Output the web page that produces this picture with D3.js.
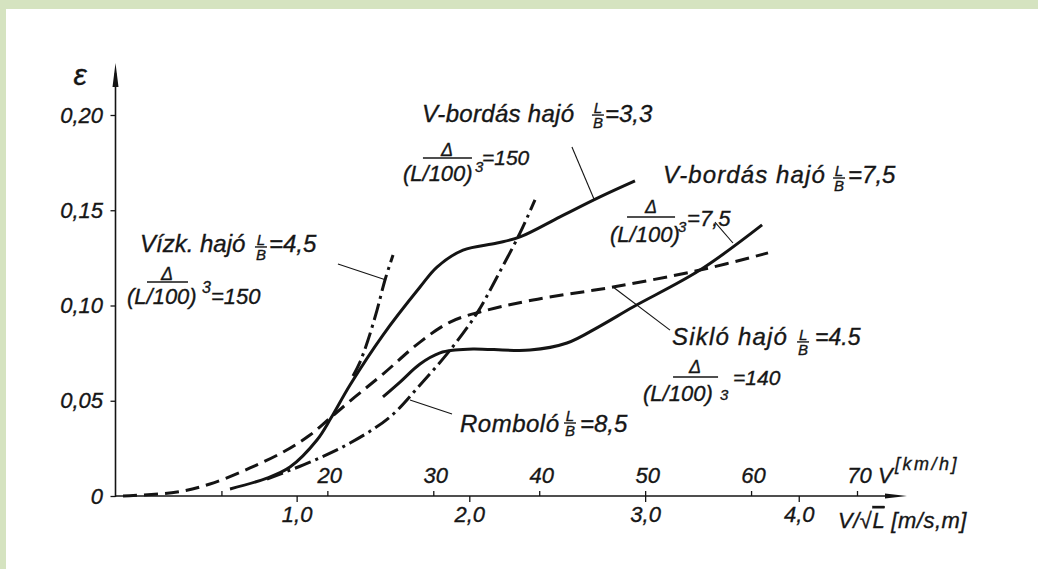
<!DOCTYPE html>
<html><head><meta charset="utf-8">
<script src="https://cdn.jsdelivr.net/npm/d3@7"></script>
<style>
html,body{margin:0;padding:0;background:#d5e3c0;}
svg{display:block;}
text{font-family:'Liberation Sans',Arial,sans-serif;font-style:italic;fill:#161616;stroke:#161616;stroke-width:0.35px;}
</style></head><body>
<svg id="chart" width="1038" height="569"></svg>
<script>
// ---------- data ----------
const yTicks = [0, 0.05, 0.10, 0.15, 0.20];
const yTickLabels = ["0", "0,05", "0,10", "0,15", "0,20"];
const kmhTicks = [10, 20, 30, 40, 50, 60, 70];
const kmhTickLabels = ["", "20", "30", "40", "50", "60", "70"];
const froudeTicks = [1, 2, 3, 4];
const froudeTickLabels = ["1,0", "2,0", "3,0", "4,0"];
// km/h value at which V/√L = 0,1,2,3,4 is drawn on the original chart
const froudeAtKmh = [0, 17.1, 33.4, 50.0, 64.5];

// series: [v km/h, epsilon]
const sikloHajo = [[0.71,0.0000],[5.81,0.0021],[8.92,0.0063],[12.70,0.0147],[16.00,0.0236],[18.36,0.0320],[20.25,0.0409],[22.61,0.0520],[25.25,0.0640],[28.75,0.0808],[31.59,0.0913],[34.41,0.0966],[39.41,0.1029],[46.97,0.1097],[55.18,0.1186],[61.60,0.1276]];
const vBordas33 = [[10.81,0.0037],[14.30,0.0094],[16.47,0.0152],[19.02,0.0294],[20.34,0.0409],[22.14,0.0583],[25.25,0.0845],[28.75,0.1097],[30.35,0.1202],[32.81,0.1291],[36.02,0.1328],[38.19,0.1360],[41.96,0.1465],[45.74,0.1570],[49.04,0.1654]];
const vBordas75 = [[25.25,0.0520],[26.86,0.0598],[28.75,0.0693],[30.64,0.0751],[32.05,0.0766],[33.75,0.0772],[39.13,0.0766],[42.62,0.0803],[45.74,0.0892],[48.85,0.0992],[55.18,0.1186],[61.04,0.1423]];
const vizkHajo = [[22.42,0.0630],[23.08,0.0703],[23.84,0.0819],[24.69,0.0976],[25.44,0.1134],[26.20,0.1265]];
const rombolo = [[14.30,0.0089],[18.36,0.0178],[22.14,0.0278],[25.91,0.0415],[28.75,0.0583],[31.59,0.0766],[34.14,0.0961],[36.02,0.1150],[38.19,0.1381],[39.60,0.1554]];

// ---------- drawing ----------
const svg = d3.select("#chart");
svg.append("rect").attr("x", 6).attr("y", 9).attr("width", 1032).attr("height", 560).attr("fill", "#ffffff");

const x = d3.scaleLinear().domain([0, 70]).range([115.5, 857]);
const y = d3.scaleLinear().domain([0, 0.2]).range([496, 115]);
const xF = d3.scaleLinear().domain([0, 1, 2, 3, 4]).range(froudeAtKmh.map(x));
const INK = "#141414";

function styleAxis(g, size) {
  g.select(".domain").remove();
  g.selectAll(".tick line").attr("stroke", INK).attr("stroke-width", 1.3);
  g.selectAll(".tick text").attr("fill", INK).style("font-size", size + "px")
    .style("font-family", "'Liberation Sans',Arial,sans-serif").style("font-style", "italic");
}

// Y axis
const gy = svg.append("g").attr("transform", `translate(${x(0)},0)`)
  .call(d3.axisLeft(y).tickValues(yTicks).tickSize(5).tickPadding(7.5)
    .tickFormat((d, i) => yTickLabels[i]));
styleAxis(gy, 22);

// km/h axis (ticks above)
const gk = svg.append("g").attr("transform", `translate(0,${y(0)})`)
  .call(d3.axisTop(x).tickValues(kmhTicks).tickSize(5).tickPadding(8)
    .tickFormat((d, i) => kmhTickLabels[i]));
styleAxis(gk, 22);
gk.selectAll(".tick text").attr("dx", 2);

// V/√L axis (ticks below)
const gf = svg.append("g").attr("transform", `translate(0,${y(0)})`)
  .call(d3.axisBottom(xF).tickValues(froudeTicks).tickSize(6).tickPadding(4.5)
    .tickFormat((d, i) => froudeTickLabels[i]));
styleAxis(gf, 22);

// axis lines with arrows
const axTop = 63, axRight = 907;
svg.append("line").attr("x1", x(0)).attr("x2", x(0)).attr("y1", y(0) + 1).attr("y2", axTop + 10)
  .attr("stroke", INK).attr("stroke-width", 1.6);
svg.append("path").attr("d", `M${x(0)},${axTop} L${x(0) - 3},${axTop + 24} L${x(0) + 3},${axTop + 24} Z`).attr("fill", INK);
svg.append("line").attr("x1", x(0)).attr("x2", axRight - 10).attr("y1", y(0)).attr("y2", y(0))
  .attr("stroke", INK).attr("stroke-width", 1.6);
svg.append("path").attr("d", `M${axRight},${y(0)} L${axRight - 22},${y(0) - 2.5} L${axRight - 22},${y(0) + 2.5} Z`).attr("fill", INK);

// curves
const line = d3.line().x(d => x(d[0])).y(d => y(d[1])).curve(d3.curveCatmullRom.alpha(0.5));
const curves = [
  {data: sikloHajo, dash: "14,7"},
  {data: vBordas33, dash: null},
  {data: vBordas75, dash: null},
  {data: vizkHajo, dash: "17,5,3,5"},
  {data: rombolo, dash: "17,5,3,5"}
];
curves.forEach(c => {
  svg.append("path").attr("d", line(c.data)).attr("fill", "none").attr("stroke", INK)
    .attr("stroke-width", 3).attr("stroke-linecap", "butt").attr("stroke-linejoin", "round")
    .attr("stroke-dasharray", c.dash);
});

// leaders (data coordinates)
const leaders = [
  [[43.09,0.1832],[45.17,0.1559]],
  [[56.59,0.1438],[58.29,0.1328]],
  [[21.00,0.1218],[25.54,0.1134]],
  [[46.97,0.1097],[52.35,0.0871]],
  [[27.80,0.0504],[31.77,0.0430]]
];
leaders.forEach(l => {
  svg.append("line").attr("x1", x(l[0][0])).attr("y1", y(l[0][1])).attr("x2", x(l[1][0])).attr("y2", y(l[1][1]))
    .attr("stroke", INK).attr("stroke-width", 1.1);
});

// annotation helpers
function txt(g, s, dx, dy, size, opts = {}) {
  const t = g.append("text").attr("x", dx).attr("y", dy).style("font-size", size + "px").text(s);
  if (opts.ls) t.style("letter-spacing", opts.ls + "px");
  if (opts.anchor) t.attr("text-anchor", opts.anchor);
  return t;
}
function bar(g, x1, x2, yy, w = 1.5) {
  g.append("line").attr("x1", x1).attr("x2", x2).attr("y1", yy).attr("y2", yy).attr("stroke", INK).attr("stroke-width", w);
}
function fracLB(g, cx, by) {
  txt(g, "L", cx, by - 2, 15, {anchor: "middle"});
  bar(g, cx - 6, cx + 6, by, 1.4);
  txt(g, "B", cx, by + 13, 15, {anchor: "middle"});
}
function anchorG(v, e) {
  return svg.append("g").attr("transform", `translate(${x(v)},${y(e)})`);
}

// A: V-bordás hajó L/B = 3,3
let g = anchorG(28.93, 0.1963);
txt(g, "V-bordás hajó", 0, 0, 24, {ls: 0.3});
fracLB(g, 176, -7);
txt(g, "=3,3", 183, 0, 24);
txt(g, "Δ", 25, 34, 18, {anchor: "middle"});
bar(g, 1, 50, 36);
txt(g, "(L/100)", -19, 59, 22);
txt(g, "3", 53, 50, 15);
txt(g, "=150", 60, 43, 21);

// B: V-bordás hajó L/B = 7,5
g = anchorG(51.69, 0.1643);
txt(g, "V-bordás hajó", 0, 0, 24, {ls: 1.1});
fracLB(g, 176, -5);
txt(g, "=7,5", 185, 0, 24);
txt(g, "Δ", -12, 30, 18, {anchor: "middle"});
bar(g, -36, 12, 34);
txt(g, "(L/100)", -53, 59, 22);
txt(g, "3", 15, 49, 15);
txt(g, "=7,5", 24, 43, 22);

// C: Vízk. hajó L/B = 4,5
g = anchorG(2.31, 0.1281);
txt(g, "Vízk. hajó", 0, 0, 24);
fracLB(g, 121, -5);
txt(g, "=4,5", 129, 0, 24);
txt(g, "Δ", 27, 28, 18, {anchor: "middle"});
bar(g, 7, 48, 30);
txt(g, "(L/100)", -13, 52, 22);
txt(g, "3", 62, 41, 16);
txt(g, "=150", 71, 52, 22);

// D: Sikló hajó L/B = 4.5
g = anchorG(52.54, 0.0793);
txt(g, "Sikló hajó", 0, 0, 24, {ls: 1.2});
fracLB(g, 131, -3);
txt(g, "=4.5", 143, 0, 23);
txt(g, "Δ", 23, 28, 18, {anchor: "middle"});
bar(g, 1, 46, 32);
txt(g, "(L/100)", -29, 56, 22);
txt(g, "3", 48, 55, 15);
txt(g, "=140", 61, 40, 21);

// E: Romboló L/B = 8,5
g = anchorG(32.52, 0.0336);
txt(g, "Romboló", 0, 0, 24, {ls: 0.5});
fracLB(g, 110, -9);
txt(g, "=8,5", 120, 0, 24);

// axis titles
txt(svg, "ε", 80, 85, 30, {anchor: "middle"});
txt(svg, "V", 878, 483, 22);
txt(svg, "[km/h]", 895, 470, 18, {ls: 2.5});
const tF = txt(svg, "", 838, 528, 22, {ls: 0.5});
tF.append("tspan").text("V/√");
tF.append("tspan").style("text-decoration", "overline").text("L");
tF.append("tspan").text(" [m/s,m]");
</script>
</body></html>
